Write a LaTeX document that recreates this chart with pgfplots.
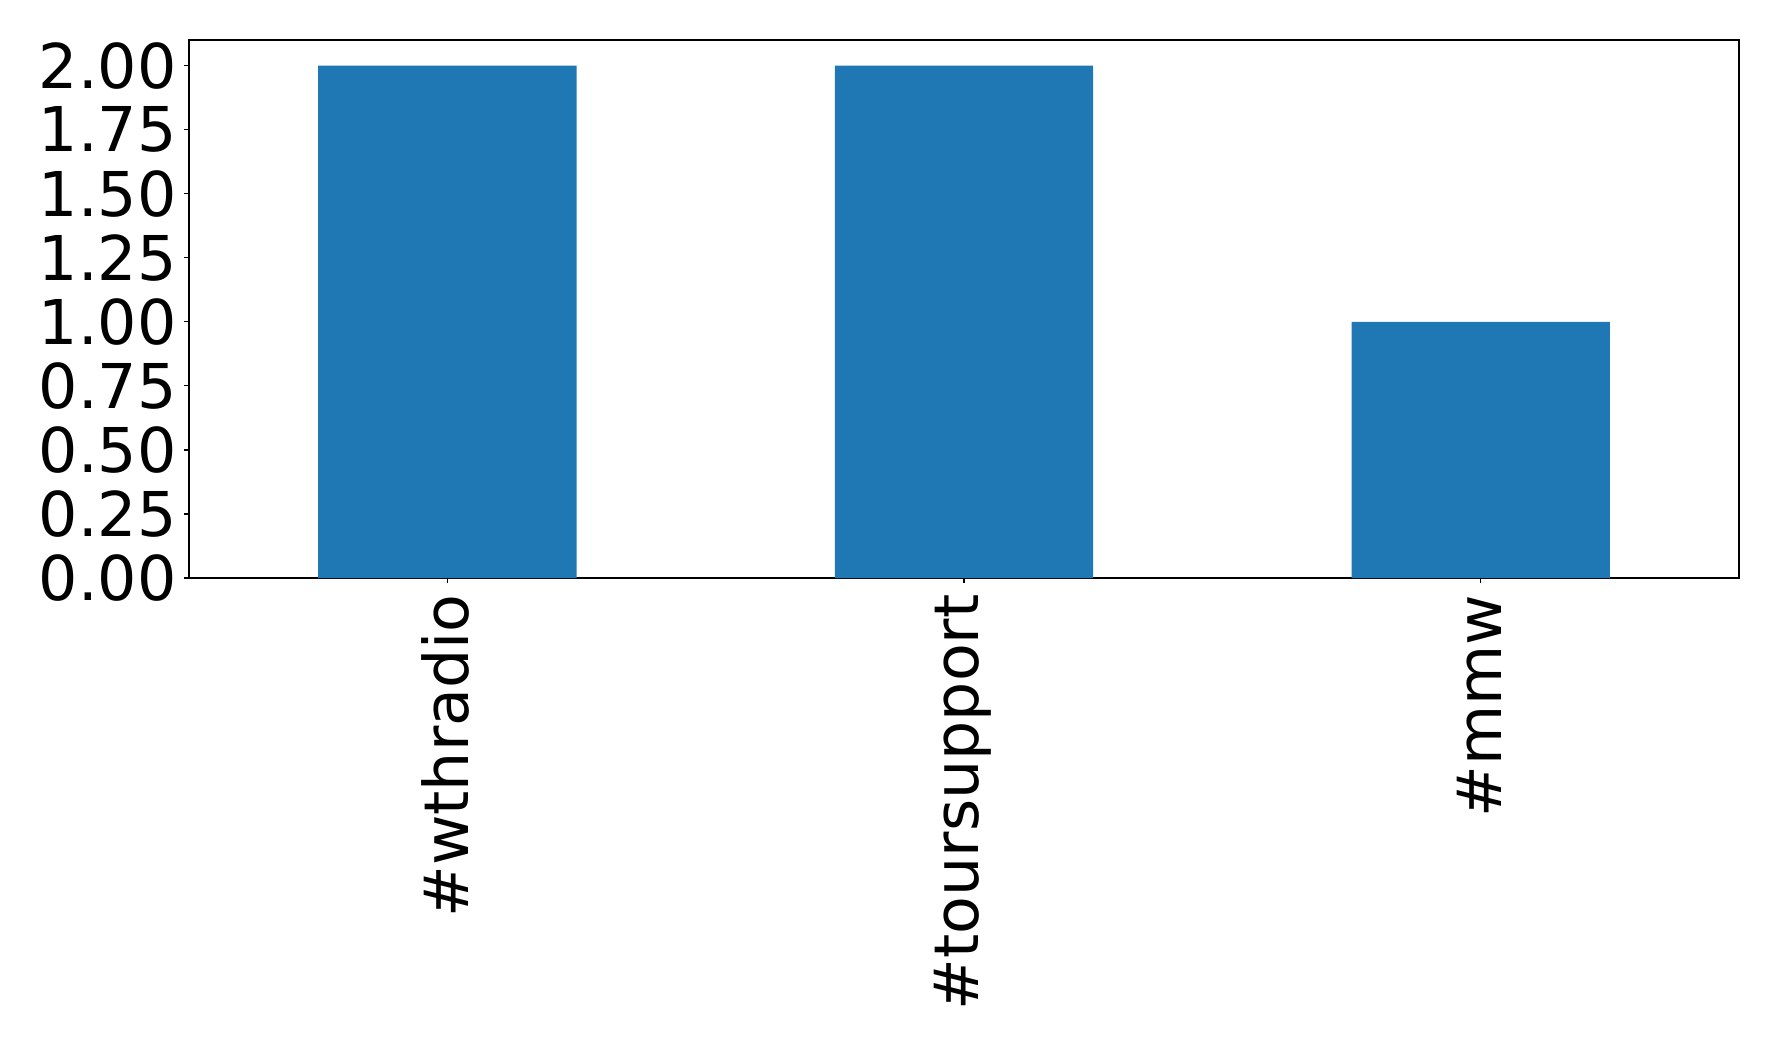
\documentclass[border=0pt]{standalone}
\usepackage{pgfplots}
\pgfplotsset{compat=1.18}
\usepackage{fontspec}
\setmainfont{DejaVu Sans}
\definecolor{mplblue}{HTML}{1F77B4}
\begin{document}
\begin{tikzpicture}
\path[use as bounding box] (-94.5bp,-235bp) rectangle (794.5bp,289bp);
\begin{axis}[
  at={(0,0)}, anchor=south west,
  scale only axis, width=775bp, height=269bp,
  xmin=-0.5, xmax=2.5, ymin=0, ymax=2.1,
  ybar, bar width=0.5, bar shift=0pt,
  xtick={0,1,2},
  xticklabels={\#wthradio,\#toursupport,\#mmw},
  ytick={0,0.25,0.5,0.75,1,1.25,1.5,1.75,2},
  yticklabel style={/pgf/number format/fixed, /pgf/number format/precision=2, /pgf/number format/fixed zerofill, inner sep=0pt, xshift=-3.5bp},
  /pgf/number format/assume math mode=true,
  ticklabel style={font=\fontsize{31}{37}\selectfont},
  xticklabel style={rotate=90, anchor=east, inner sep=0pt, xshift=-5.5bp, yshift=0.8bp},
  tick align=outside, xtick pos=bottom, ytick pos=left,
  major tick length=2.6bp,
  every tick/.style={black, line width=0.6bp},
  axis line style={line width=0.6bp},
]
\addplot[fill=mplblue, draw=none] coordinates {(0,2) (1,2) (2,1)};
\end{axis}
\end{tikzpicture}
\end{document}
